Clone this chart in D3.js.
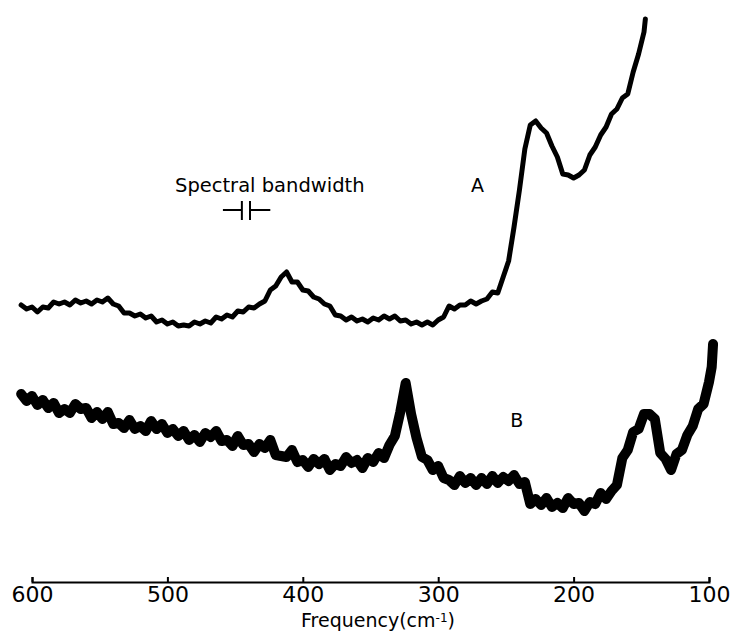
<!DOCTYPE html>
<html>
<head>
<meta charset="utf-8">
<script src="https://cdn.jsdelivr.net/npm/d3@7"></script>
<style>
  html, body { margin: 0; padding: 0; background: #fff; }
  svg { display: block; }
  text { font-family: "DejaVu Sans", sans-serif; fill: #000; }
</style>
</head>
<body>
<svg id="chart" width="736" height="631"></svg>
<script>
// ---- Data (frequency in cm^-1, intensity in arbitrary units) ----
const freqA = [608,604,600,596,592,588,584,580,576,572,568,564,560,556,552,548,544,540,536,532,528,524,520,516,512,508,504,500,496,492,488,484,480,476,472,468,464,460,456,452,448,444,440,436,432,428,424,420,416,412,408,404,400,396,392,388,384,380,376,372,368,364,360,356,352,348,344,340,336,332,328,324,320,316,312,308,304,300,296,292,288,284,280,276,272,268,264,260,256,252,248,244,240,236,232,228,224,220,216,212,208,204,200,196,192,188,184,180,176,172,168,164,160,156,152,148,147];
const intA = [277,273,275,270,275,274,280,278,280,277,282,279,281,278,282,280,284,278,276,269,269,266,268,264,266,260,262,258,260,256,257,256,260,258,261,259,265,263,267,265,271,270,275,274,278,281,292,296,305,310,300,300,292,291,285,283,278,276,267,266,262,265,261,263,260,264,262,266,263,266,261,262,258,260,257,260,257,262,265,276,273,277,277,281,278,281,283,290,289,305,321,355,392,433,457,461,454,449,436,425,408,407,404,407,412,427,435,447,455,468,473,484,488,510,528,550,563];

const freqB = [608,604,600,596,592,588,584,580,576,572,568,564,560,556,552,548,544,540,536,532,528,524,520,516,512,508,504,500,496,492,488,484,480,476,472,468,464,460,456,452,448,444,440,436,432,428,424,420,416,412,408,404,400,396,392,388,384,380,376,372,368,364,360,356,352,348,344,340,336,332,328,324,320,316,312,308,304,300,296,292,288,284,280,276,272,268,264,260,256,252,248,244,240,236,232,228,224,220,216,212,208,204,200,196,192,188,184,180,176,172,168,164,160,156,152,148,144,140,136,132,128,124,120,116,112,108,104,100,98,97];
const intB = [188,181,186,177,182,174,179,169,173,169,178,173,174,164,170,163,170,158,159,154,162,153,156,151,161,153,158,149,153,146,151,142,147,140,149,145,151,141,142,136,146,137,138,130,138,134,142,127,126,125,132,120,122,115,123,118,123,112,118,116,125,119,122,114,124,120,129,124,137,146,170,199,168,144,125,122,112,116,104,102,97,106,99,104,97,104,98,106,99,105,101,107,98,100,78,83,77,84,75,79,74,84,78,79,71,80,78,89,83,91,97,124,132,150,153,168,168,163,129,123,112,128,132,147,156,173,178,200,215,238];

const xTicks = [600, 500, 400, 300, 200, 100];
const seriesLabels = [{name: "A", f: 271, v: 390}, {name: "B", f: 242, v: 155}];
const bandwidthMarks = [445, 439];   // slit width markers (cm^-1)
const bandwidthArms = [459, 424];

// ---- Scales ----
const svg = d3.select("#chart");
const x = d3.scaleLinear().domain([600, 100]).range([32, 709]);
const y = d3.scaleLinear().domain([0, 570]).range([582, 12]);

// ---- Traces ----
const line = d3.line().x(d => x(d[0])).y(d => y(d[1]));
const dataA = freqA.map((f, i) => [f, intA[i]]);
const dataB = freqB.map((f, i) => [f, intB[i]]);

svg.append("path").datum(dataA).attr("d", line)
  .attr("fill", "none").attr("stroke", "#000").attr("stroke-width", 5)
  .attr("stroke-linejoin", "round").attr("stroke-linecap", "round");
svg.append("path").datum(dataB).attr("d", line)
  .attr("fill", "none").attr("stroke", "#000").attr("stroke-width", 10)
  .attr("stroke-linejoin", "round").attr("stroke-linecap", "round");

// ---- Axis ----
const axis = d3.axisBottom(x).tickValues(xTicks).tickFormat(d3.format("d"))
  .tickSizeInner(-5).tickSizeOuter(-5).tickPadding(4);
const gx = svg.append("g").attr("transform", `translate(0,582)`).call(axis);
gx.select(".domain").attr("stroke", "#000").attr("stroke-width", 2);
gx.selectAll(".tick line").attr("stroke", "#000").attr("stroke-width", 2);
gx.selectAll(".tick text").attr("font-size", 22).attr("font-family", "DejaVu Sans, sans-serif").attr("fill", "#000");

const title = svg.append("text").attr("x", 378).attr("y", 627)
  .attr("text-anchor", "middle").attr("font-size", 19);
title.append("tspan").text("Frequency(cm");
title.append("tspan").attr("dy", -5).attr("font-size", 12).text("-1");
title.append("tspan").attr("dy", 5).text(")");

// ---- Labels ----
svg.selectAll("text.series").data(seriesLabels).enter().append("text")
  .attr("class", "series")
  .attr("x", d => x(d.f)).attr("y", d => y(d.v))
  .attr("text-anchor", "middle").attr("font-size", 19)
  .text(d => d.name);

svg.append("text").attr("x", 175).attr("y", 192).attr("font-size", 19.5)
  .text("Spectral bandwidth");

const bw = svg.append("g").attr("stroke", "#000").attr("stroke-width", 2);
bw.append("line").attr("x1", x(bandwidthArms[0])).attr("x2", x(bandwidthMarks[0])).attr("y1", 210).attr("y2", 210);
bw.append("line").attr("x1", x(bandwidthMarks[1])).attr("x2", x(bandwidthArms[1])).attr("y1", 210).attr("y2", 210);
bandwidthMarks.forEach(m => {
  bw.append("line").attr("x1", x(m)).attr("x2", x(m)).attr("y1", 201).attr("y2", 220);
});
</script>
</body>
</html>
